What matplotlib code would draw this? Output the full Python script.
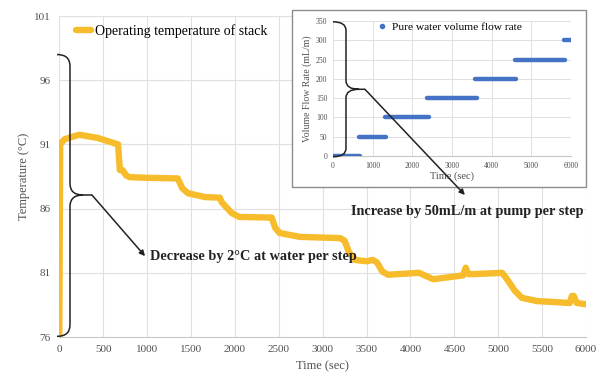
import matplotlib
matplotlib.use("Agg")
import matplotlib.pyplot as plt
from matplotlib.path import Path
from matplotlib.patches import PathPatch, Rectangle

plt.rcParams['font.family'] = ['Liberation Serif', 'DejaVu Serif']

# Stack temperature
time_s = [0, 10, 60, 150, 230, 440, 670, 690, 720, 760, 800, 1000, 1350, 1400,
          1465, 1660, 1830, 1850, 1965, 2050, 2420, 2460, 2510, 2740, 3200, 3250,
          3300, 3370, 3500, 3570, 3620, 3680, 3745, 4100, 4160, 4260, 4600, 4630,
          4660, 4720, 5045, 5090, 5190, 5270, 5440, 5815, 5840, 5860, 5895, 6000]
temp_c = [76.0, 91.0, 91.4, 91.6, 91.75, 91.5, 91.0, 89.0, 89.0, 88.6, 88.45, 88.4,
          88.35, 87.6, 87.2, 86.9, 86.85, 86.5, 85.65, 85.35, 85.3, 84.5, 84.1, 83.8,
          83.7, 83.5, 82.6, 82.0, 81.9, 82.0, 81.8, 81.1, 80.85, 81.0, 80.8, 80.5,
          80.8, 81.4, 80.9, 80.9, 81.0, 80.6, 79.6, 79.05, 78.8, 78.65, 79.2, 79.2,
          78.65, 78.55]

# Pump flow rate steps
flow_values = [0, 50, 100, 150, 200, 250, 300]
step_start = [0, 650, 1300, 2370, 3570, 4600, 5830]
step_end = [690, 1340, 2430, 3640, 4620, 5850, 6000]

x_ticks = list(range(0, 6001, 500))
y_ticks = [76, 81, 86, 91, 96, 101]
inset_x_ticks = list(range(0, 6001, 1000))
inset_y_ticks = list(range(0, 351, 50))

YELLOW = '#F7BC2C'
BLUE = '#4472C4'
TICK = '#505050'
GRID = '#E0E0E0'


def draw_brace(ax, x_end, x_spine, x_tip, y_top, y_mid, y_bot, r, lw=1.1):
    x_curve = x_spine + (x_spine - x_end)
    verts = [(x_end, y_top), (x_spine, y_top), (x_spine, y_top - r),
             (x_spine, y_mid + r), (x_spine, y_mid), (x_curve, y_mid),
             (x_tip, y_mid),
             (x_curve, y_mid), (x_spine, y_mid), (x_spine, y_mid - r),
             (x_spine, y_bot + r), (x_spine, y_bot), (x_end, y_bot)]
    codes = [Path.MOVETO, Path.CURVE3, Path.CURVE3,
             Path.LINETO, Path.CURVE3, Path.CURVE3,
             Path.LINETO,
             Path.MOVETO, Path.CURVE3, Path.CURVE3,
             Path.LINETO, Path.CURVE3, Path.CURVE3]
    patch = PathPatch(Path(verts, codes), facecolor='none', edgecolor='#222222',
                      lw=lw, clip_on=False, zorder=5)
    ax.add_patch(patch)


fig = plt.figure(figsize=(6.03, 3.76), dpi=100)

# main chart
ax = fig.add_axes([0.0983, 0.1037, 0.8735, 0.8537])
ax.plot(time_s, temp_c, color=YELLOW, lw=4.6, solid_joinstyle='round',
        solid_capstyle='round', label='Operating temperature of stack', zorder=3)
ax.set_xlim(0, 6000)
ax.set_ylim(76, 101)
ax.set_xticks(x_ticks)
ax.set_yticks(y_ticks)
ax.grid(True, color=GRID, lw=0.8)
ax.set_axisbelow(True)
for s in ['top', 'right', 'left']:
    ax.spines[s].set_visible(False)
ax.spines['bottom'].set_color('#C8C8C8')
ax.tick_params(length=0, labelsize=8, colors=TICK, pad=6)
ax.set_xlabel('Time (sec)', fontsize=9, color=TICK, labelpad=4)
ax.set_ylabel('Temperature (°C)', fontsize=9, color=TICK, labelpad=3)
ax.legend(loc='upper left', bbox_to_anchor=(0.015, 1.0), frameon=False,
          fontsize=10, handlelength=1.1, handletextpad=0.3, borderaxespad=0.2)

draw_brace(ax, -26, 122, 372, 98.0, 87.06, 76.05, 0.9)
ax.annotate('', xy=(977, 82.3), xytext=(372, 87.06),
            arrowprops=dict(arrowstyle='-|>', color='#222222', lw=1.1,
                            mutation_scale=8, shrinkA=0, shrinkB=0),
            annotation_clip=False, zorder=5)
ax.text(1030, 82.3, 'Decrease by 2°C at water per step', fontsize=10.3,
        fontweight='bold', color='#222222', ha='left', va='center')
ax.text(3320, 85.74, 'Increase by 50mL/m at pump per step', fontsize=10.3,
        fontweight='bold', color='#222222', ha='left', va='center')

# inset frame
box = Rectangle((0.4842, 0.5027), 0.4876, 0.4707, transform=fig.transFigure,
                facecolor='white', edgecolor='#8C8C8C', lw=1.0, zorder=1)
fig.patches.append(box)

# inset chart
axi = fig.add_axes([0.5522, 0.5851, 0.3947, 0.3590])
axi.set_zorder(2)
for i, v in enumerate(flow_values):
    axi.plot([step_start[i], step_end[i]], [v, v], color=BLUE, lw=3.2,
             solid_capstyle='round', zorder=3)
axi.plot([], [], 'o', color=BLUE, ms=3, label='Pure water volume flow rate')
axi.set_xlim(0, 6000)
axi.set_ylim(0, 350)
axi.set_xticks(inset_x_ticks)
axi.set_yticks(inset_y_ticks)
axi.grid(True, color=GRID, lw=0.7)
axi.set_axisbelow(True)
for s in ['top', 'right', 'left']:
    axi.spines[s].set_visible(False)
axi.spines['bottom'].set_color('#C8C8C8')
axi.tick_params(length=0, labelsize=5.5, colors=TICK, pad=4)
axi.set_xlabel('Time (sec)', fontsize=7.5, color=TICK, labelpad=1)
axi.set_ylabel('Volume Flow Rate (mL/m)', fontsize=7, color=TICK, labelpad=3)
axi.legend(loc='upper left', bbox_to_anchor=(0.16, 1.04), frameon=False,
           fontsize=8.2, handlelength=0.8, handletextpad=0.4, borderaxespad=0.2)

draw_brace(axi, 0, 328, 806, 348, 173, -2, 22)
axi.annotate('', xy=(3326, -101), xytext=(806, 173),
             arrowprops=dict(arrowstyle='-|>', color='#222222', lw=1.1,
                             mutation_scale=8, shrinkA=0, shrinkB=0),
             annotation_clip=False, zorder=5)

fig.savefig('out.png', dpi=100)
